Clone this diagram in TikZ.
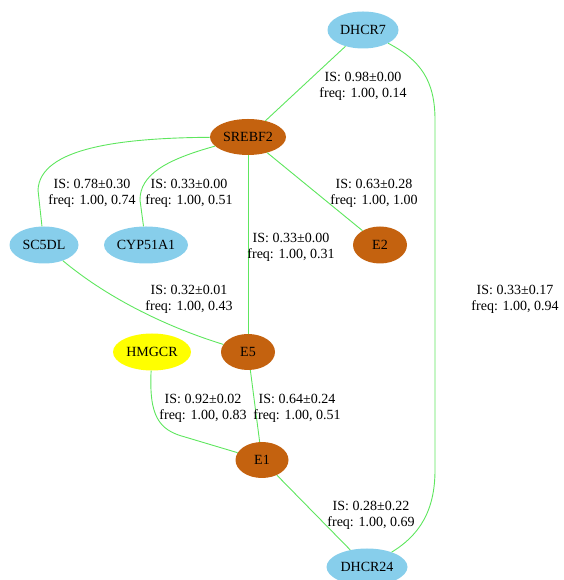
\documentclass[tikz,border=0pt]{standalone}
\usepackage{fontspec}
\setmainfont{Liberation Serif}
\usepackage{tikz}
\usetikzlibrary{shapes.geometric}
\definecolor{genblue}{HTML}{87CEEB}
\definecolor{genorange}{HTML}{C4620F}
\definecolor{genyellow}{HTML}{FFFF00}
\definecolor{edgegreen}{HTML}{5EE65E}
\tikzset{
	gene/.style={ellipse, inner sep=0pt, minimum height=37pt, font=\fontsize{14}{16}\selectfont},
	isfreq/.style={align=center, inner sep=0pt, font=\fontsize{14}{16}\selectfont},
	edge/.style={line width=0.9pt, color=edgegreen}
}

\begin{document}
\begin{tikzpicture}[x=1pt, y=1pt]
			%%%%% START %%%%%
			\useasboundingbox (0, 0) rectangle (563, 580);
			
			\node[gene, fill=genblue, minimum width=71pt] (dhcr7) at (363, 550) {DHCR7};
			\node[gene, fill=genorange, minimum width=76pt, minimum height=36pt] (srebf2) at (248, 443) {SREBF2};
			\node[gene, fill=genblue, minimum width=69pt] (sc5dl) at (44, 335) {SC5DL};
			\node[gene, fill=genblue, minimum width=84pt] (cyp51a1) at (146, 335) {CYP51A1};
			\node[gene, fill=genorange, minimum width=54pt] (e2) at (380, 335) {E2};
			\node[gene, fill=genyellow, minimum width=78pt] (hmgcr) at (152, 228) {HMGCR};
			\node[gene, fill=genorange, minimum width=54pt, minimum height=36pt] (e5) at (248, 228) {E5};
			\node[gene, fill=genorange, minimum width=53pt, minimum height=36pt] (e1) at (262, 120) {E1};
			\node[gene, fill=genblue, minimum width=81pt] (dhcr24) at (367, 13) {DHCR24};
			
			\draw[edge] (dhcr7) -- (srebf2);
			\draw[edge] (srebf2) .. controls (120, 442) and (40, 432) .. (38, 390) -- (sc5dl);
			\draw[edge] (srebf2) .. controls (165, 420) and (140, 405) .. (140, 380) -- (cyp51a1);
			\draw[edge] (srebf2) -- (e2);
			\draw[edge] (srebf2) -- (e5);
			\draw[edge] (sc5dl) .. controls (110, 280) and (170, 252) .. (e5);
			\draw[edge] (hmgcr) .. controls (149, 165) and (158, 150) .. (185, 143) -- (e1);
			\draw[edge] (e5) -- (e1);
			\draw[edge] (e1) -- (dhcr24);
			\draw[edge] (dhcr7) .. controls (420, 520) and (435, 500) .. (435, 460) -- (435, 110) .. controls (435, 70) and (420, 45) .. (dhcr24);
			
			\node[isfreq] (l_dhcr7) at (363, 494) {IS: 0.98±0.00\\freq: 1.00, 0.14};
			\node[isfreq] (l_sc5dl) at (92, 387) {IS: 0.78±0.30\\freq: 1.00, 0.74};
			\node[isfreq] (l_cyp) at (189, 387) {IS: 0.33±0.00\\freq: 1.00, 0.51};
			\node[isfreq] (l_e2) at (374, 387) {IS: 0.63±0.28\\freq: 1.00, 1.00};
			\node[isfreq] (l_e5top) at (291, 333) {IS: 0.33±0.00\\freq: 1.00, 0.31};
			\node[isfreq] (l_sc5e5) at (189, 281) {IS: 0.32±0.01\\freq: 1.00, 0.43};
			\node[isfreq] (l_dhcr24) at (515, 281) {IS: 0.33±0.17\\freq: 1.00, 0.94};
			\node[isfreq] (l_hmgcr) at (203, 172) {IS: 0.92±0.02\\freq: 1.00, 0.83};
			\node[isfreq] (l_e5e1) at (297, 172) {IS: 0.64±0.24\\freq: 1.00, 0.51};
			\node[isfreq] (l_e1) at (371, 65) {IS: 0.28±0.22\\freq: 1.00, 0.69};
			
			%%%%% END %%%%%
\end{tikzpicture}
\end{document}
